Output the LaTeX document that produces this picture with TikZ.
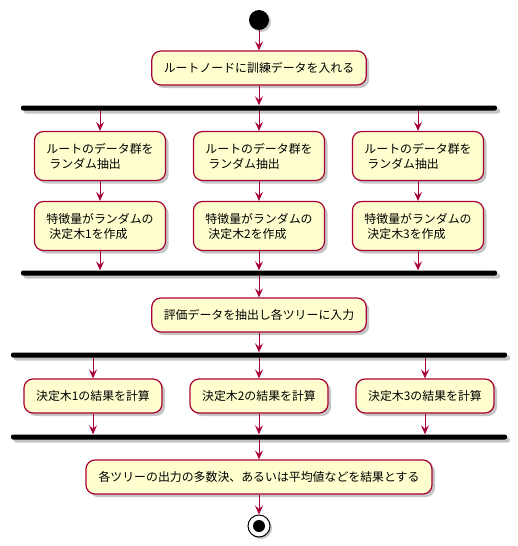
\documentclass[tikz,border=0pt]{standalone}
\usepackage{fontspec}
\setmainfont{Noto Sans CJK JP}
\usetikzlibrary{shapes.geometric, arrows, arrows.meta, shadows}
\definecolor{umlred}{HTML}{A80036}
\definecolor{umlfill}{HTML}{FEFECE}
\tikzstyle{act} = [rectangle, rounded corners=9pt, minimum height=34pt, inner xsep=12pt, draw=umlred, fill=umlfill, line width=1.2pt, font=\fontsize{11.9}{15}\selectfont, drop shadow={shadow xshift=3pt, shadow yshift=-3pt, fill=black!45, opacity=0.5}]
\tikzstyle{act2} = [act, minimum width=131pt, minimum height=49pt, align=left]
\tikzstyle{bar} = [rectangle, rounded corners=2pt, fill=black, minimum height=5pt, inner sep=0pt, drop shadow={shadow xshift=3pt, shadow yshift=-3pt, fill=black!45, opacity=0.5}]
\tikzstyle{arrow} = [line width=1pt, draw=umlred, ->, >={Stealth[length=9pt, width=8pt, inset=3.5pt]}]

\begin{document}
\begin{tikzpicture}[x=1pt, y=-1pt]
        \useasboundingbox (0,0) rectangle (518,546);
        \node (start) [circle, fill=black, minimum size=20pt, inner sep=0pt, drop shadow={shadow xshift=2pt, shadow yshift=-2pt, fill=black!45, opacity=0.5}] at (259,20) {};
        \node (a1) [act, minimum width=212pt] at (259,68) {ルートノードに訓練データを入れる};
        \draw [arrow] (start) -- (a1);
        
        \node (fork1) [bar, minimum width=476pt] at (259,108) {};
        \draw [arrow] (a1) -- (fork1);
        
        \node (r1) [act2] at (100,156) {ルートのデータ群を\\\hspace{3pt}ランダム抽出};
        \node (r2) [act2] at (259,156) {ルートのデータ群を\\\hspace{3pt}ランダム抽出};
        \node (r3) [act2] at (418,156) {ルートのデータ群を\\\hspace{3pt}ランダム抽出};
        \node (d1) [act2] at (100,226) {特徴量がランダムの\\\hspace{3pt}決定木1を作成};
        \node (d2) [act2] at (259,226) {特徴量がランダムの\\\hspace{3pt}決定木2を作成};
        \node (d3) [act2] at (418,226) {特徴量がランダムの\\\hspace{3pt}決定木3を作成};
        
        \node (join1) [bar, minimum width=476pt] at (259,273) {};
        \foreach \i in {1,2,3} {
            \draw [arrow] (fork1.south -| r\i) -- (r\i);
            \draw [arrow] (r\i) -- (d\i);
            \draw [arrow] (d\i) -- (d\i |- join1.north);
        }
        
        \node (a2) [act, minimum width=214pt] at (259,315) {評価データを抽出し各ツリーに入力};
        \draw [arrow] (join1) -- (a2);
        
        \node (fork2) [bar, minimum width=496pt] at (259,355) {};
        \draw [arrow] (a2) -- (fork2);
        
        \node (c1) [act, minimum width=138pt] at (93,396) {決定木1の結果を計算};
        \node (c2) [act, minimum width=138pt] at (259,396) {決定木2の結果を計算};
        \node (c3) [act, minimum width=138pt] at (425,396) {決定木3の結果を計算};
        
        \node (join2) [bar, minimum width=496pt] at (259,437) {};
        \foreach \i in {1,2,3} {
            \draw [arrow] (fork2.south -| c\i) -- (c\i);
            \draw [arrow] (c\i) -- (c\i |- join2.north);
        }
        
        \node (a3) [act, minimum width=346pt] at (259,477) {各ツリーの出力の多数決、あるいは平均値などを結果とする};
        \draw [arrow] (join2) -- (a3);
        
        \node (stop) [circle, draw=black, fill=white, line width=1pt, minimum size=22pt, inner sep=0pt, drop shadow={shadow xshift=2pt, shadow yshift=-2pt, fill=black!45, opacity=0.5}] at (259,526) {};
        \fill (stop.center) circle (6pt);
        \draw [arrow] (a3) -- (stop);
\end{tikzpicture}
\end{document}
